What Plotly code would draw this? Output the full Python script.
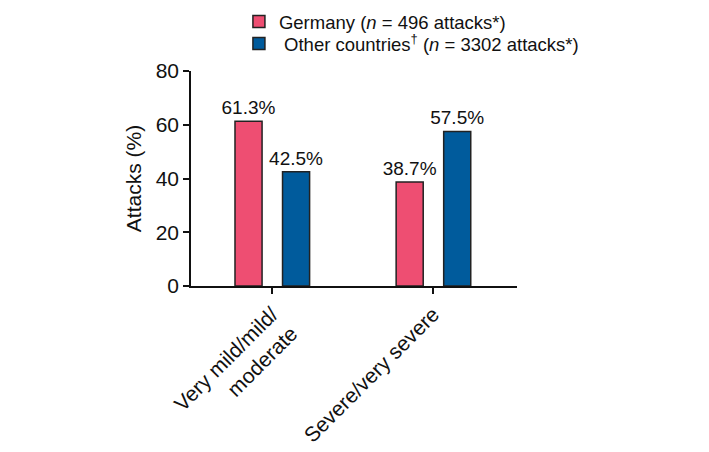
import plotly.graph_objects as go

categories = ["Very mild/mild/<br>moderate", "Severe/very severe"]
germany = [61.3, 38.7]
other = [42.5, 57.5]
series_names = ["Germany (<i>n</i> = 496 attacks*)", " Other countries<sup>†</sup> (<i>n</i> = 3302 attacks*)"]
colors = ["#EE4E72", "#005B9C"]
y_ticks = [0, 20, 40, 60, 80]

FONT = "Liberation Sans, Arial, Helvetica, sans-serif"

fig = go.Figure()
for vals, name, col, off, leg in [(germany, series_names[0], colors[0], -0.23, "legend"),
                                  (other, series_names[1], colors[1], 0.065, "legend2")]:
    fig.add_trace(go.Bar(
        x=[0, 1], y=vals, name=name, legend=leg,
        width=0.168, offset=off,
        marker=dict(color=col, line=dict(color="#222222", width=1.5)),
        text=[f"{v:.1f}%" for v in vals], textposition="outside",
        constraintext="none",
        textfont=dict(size=19, color="#111111", family=FONT),
        cliponaxis=False,
    ))

leg_common = dict(xanchor="left", yanchor="middle", font=dict(size=18.5, family=FONT),
                  bgcolor="rgba(0,0,0,0)", borderwidth=0)

# page body adds an 8px offset; margins compensate so the plot lands where the reference has it
fig.update_layout(
    width=709, height=452,
    margin=dict(l=183, r=200, t=63, b=174, autoexpand=False),
    paper_bgcolor="white", plot_bgcolor="white",
    font=dict(family=FONT, color="#111111", size=21),
    barmode="group",
    showlegend=True,
    legend=dict(x=0.147, y=1 + (71 - 22) / 215, **leg_common),
    legend2=dict(x=0.147, y=1 + (71 - 44) / 215, **leg_common),
    xaxis=dict(
        range=[-0.503, 1.52], tickmode="array", tickvals=[0, 1], ticktext=categories,
        tickangle=-45, showline=True, linecolor="#111111", linewidth=1.5,
        ticks="outside", ticklen=6, tickwidth=1.5, tickcolor="#111111",
        showgrid=False, zeroline=False, tickfont=dict(size=21), automargin=False,
    ),
    yaxis=dict(
        range=[0, 80], tickvals=y_ticks, showline=True, linecolor="#111111", linewidth=1.5,
        ticks="outside", ticklen=6, tickwidth=1.5, tickcolor="#111111",
        showgrid=False, zeroline=False, tickfont=dict(size=21), automargin=False,
        title=dict(text="Attacks (%)", font=dict(size=21), standoff=8),
    ),
)

fig.write_html("out.html")
